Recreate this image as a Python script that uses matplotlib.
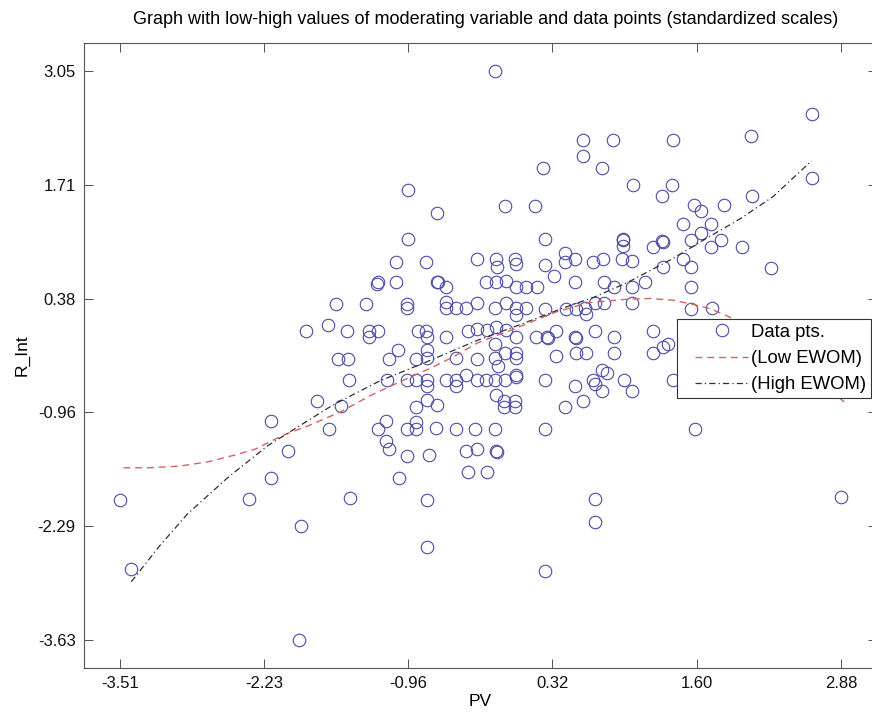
import matplotlib
matplotlib.use("Agg")
import matplotlib.pyplot as plt
from matplotlib.lines import Line2D
from matplotlib.legend_handler import HandlerLine2D

plt.rcParams['font.family'] = ['Liberation Sans', 'DejaVu Sans']

# ---- data (standardized scales) ----
pv = [-3.51, -3.41, -2.37, -2.17, -2.17, -2.02, -1.91, -1.92, -1.47, -0.79,
      -0.79, -1.04, -0.43, -0.97, -0.77, -0.44, -0.35, -1.15, -1.13, -1.66,
      -1.22, -1.15, -0.97, -0.89, -0.89, -0.71, -0.53, -0.36, -1.76, -1.55,
      -0.89, -0.79, -0.70, -1.48, -1.14, -0.97, -0.89, -0.79, -0.79, -0.62,
      -0.53, -0.53, -0.44, -0.35, -1.58, -1.49, -1.13, -0.89, -0.79, -0.53,
      -0.35, -1.05, -0.79,
      -0.96, -0.70, -0.96, -1.06, -0.80, -0.35, -1.23, -1.22, -1.06, -0.70,
      -0.69, -0.62, -1.60, -1.33, -0.97, -0.97, -0.62, -0.62, -0.53, -0.44,
      -0.35, -1.86, -1.67, -1.50, -1.30, -1.30, -1.22, -0.87, -0.80, -0.79,
      -0.62, -0.43, -0.35,
      -0.19, 0.59, 0.86, 0.59, 1.39, 0.24, 0.76, 1.04, 1.29, 1.38,
      -0.10, 0.17, 0.26, 0.95, 0.95, 0.95, 1.21, 1.29, 1.30, -0.18,
      -0.17, -0.01, 0.00, 0.26, 0.43, 0.43, 0.52, 0.68, 0.77, 0.94,
      1.03, 1.30, -0.27, -0.18, -0.09, 0.00, 0.09, 0.19, 0.34, 0.52,
      0.78, 0.87, 1.03, 1.14, -0.19, -0.09, 0.00, 0.00, 0.09, 0.26,
      0.44, 0.53, 0.61, 0.62, 0.70, 0.78, 1.03, -0.26, -0.18, -0.09,
      0.00, 0.18, 0.27, 0.28, 0.35, 0.52, 0.53, 0.70, 0.87, 1.21,
      1.30, 1.35, -0.19, -0.10, 0.00, 0.35, 0.53, 0.62, 0.87, 1.21,
      -0.19, -0.16, 0.00, -0.27, -0.19, -0.10, 0.00, 0.00, 0.26, 0.52,
      0.68, 0.70, 0.76, 0.81, 0.76, 0.96, 1.03, 1.39, -0.18, -0.11,
      -0.11, -0.01, -0.01, 0.43, 0.59, -0.19, 0.26, -0.18, -0.17, -0.26,
      0.70, 0.70, 0.26,
      2.62, 2.08, 2.62, 1.58, 1.64, 1.84, 2.09, 1.48, 1.64, 1.73,
      1.55, 1.73, 1.82, 2.00, 1.48, 1.55, 2.26, 1.55, 1.55, 1.74,
      1.59, 2.88]

r_int = [-1.99, -2.80, -1.98, -1.06, -1.73, -1.41, -2.29, -3.63, -1.96, -1.99,
         -2.54, -1.73, -1.66, -1.47, -1.46, -1.41, -1.39, -1.30, -1.39, -1.15,
         -1.15, -1.06, -1.15, -1.07, -1.16, -1.14, -1.15, -1.15, -0.82, -0.88,
         -0.89, -0.81, -0.87, -0.58, -0.58, -0.58, -0.58, -0.58, -0.65, -0.58,
         -0.58, -0.65, -0.52, -0.58, -0.33, -0.33, -0.33, -0.33, -0.32, -0.32,
         -0.33, -0.23, -0.22,
         1.65, 1.39, 1.08, 0.81, 0.81, 0.84, 0.55, 0.57, 0.57, 0.58,
         0.57, 0.52, 0.32, 0.32, 0.32, 0.27, 0.34, 0.27, 0.27, 0.27,
         0.33, 0.00, 0.07, 0.00, 0.00, -0.07, 0.00, 0.00, 0.00, -0.07,
         -0.07, 0.00, 0.02,
         3.05, 2.24, 2.24, 2.05, 2.24, 1.91, 1.91, 1.71, 1.59, 1.71,
         1.47, 1.47, 1.08, 1.08, 1.07, 1.00, 0.99, 1.06, 1.05, 0.85,
         0.75, 0.84, 0.78, 0.77, 0.92, 0.81, 0.84, 0.81, 0.84, 0.84,
         0.82, 0.75, 0.57, 0.58, 0.59, 0.51, 0.51, 0.52, 0.64, 0.58,
         0.58, 0.52, 0.51, 0.58, 0.27, 0.33, 0.27, 0.19, 0.27, 0.26,
         0.26, 0.26, 0.27, 0.20, 0.33, 0.33, 0.33, 0.01, 0.05, 0.01,
         -0.07, -0.07, -0.07, -0.08, 0.00, -0.07, -0.08, 0.00, -0.07, 0.00,
         -0.19, -0.15, -0.16, -0.26, -0.26, -0.29, -0.26, -0.26, -0.26, -0.26,
         -0.32, -0.41, -0.32, -0.58, -0.58, -0.58, -0.52, -0.54, -0.58, -0.65,
         -0.58, -0.63, -0.46, -0.49, -0.71, -0.58, -0.71, -0.58, -0.75, -0.83,
         -0.89, -0.83, -0.89, -0.89, -0.82, -1.15, -1.15, -1.41, -1.42, -1.66,
         -1.98, -2.25, -2.82,
         2.55, 2.29, 1.80, 1.48, 1.41, 1.48, 1.58, 1.26, 1.15, 1.26,
         1.07, 0.99, 1.07, 0.99, 0.84, 0.75, 0.74, 0.51, 0.26, 0.27,
         -1.15, -1.95]

low_x = [-3.48, -3.24, -2.98, -2.73, -2.49, -2.31, -2.07, -1.83, -1.55, -1.29,
         -1.03, -0.76, -0.56, -0.34, -0.04, 0.35, 0.64, 0.97, 1.19, 1.39,
         1.57, 1.72, 1.88, 2.16, 2.43, 2.65, 2.92]
low_y = [-1.61, -1.61, -1.59, -1.54, -1.46, -1.39, -1.23, -1.11, -0.95, -0.76,
         -0.60, -0.44, -0.31, -0.14, 0.01, 0.22, 0.33, 0.37, 0.38, 0.36,
         0.31, 0.26, 0.17, -0.02, -0.28, -0.54, -0.85]

high_x = [-3.41, -3.16, -2.91, -2.55, -2.20, -1.91, -1.62, -1.21, -0.82, -0.34,
          0.05, 0.40, 0.70, 0.99, 1.39, 1.69, 1.99, 2.28, 2.62]
high_y = [-2.95, -2.53, -2.15, -1.72, -1.35, -1.11, -0.87, -0.59, -0.38, -0.11,
          0.08, 0.26, 0.40, 0.57, 0.85, 1.09, 1.32, 1.58, 2.00]

xticks = [-3.51, -2.23, -0.96, 0.32, 1.60, 2.88]
yticks = [-3.63, -2.29, -0.96, 0.38, 1.71, 3.05]

title = "Graph with low-high values of moderating variable and data points (standardized scales)"

# ---- figure ----
W, H = 872, 716
fig = plt.figure(figsize=(W / 100, H / 100), dpi=100)
ax = fig.add_axes([84 / W, (H - 668) / H, 793 / W, 625 / H])

ax.plot(pv, r_int, 'o', ls='none', mfc='none', mec='#4b4ba6', mew=0.8, ms=9.0,
        label='Data pts.')
ax.plot(low_x, low_y, ls=(0, (5, 3.5)), color='#d46464', lw=1.0, label='(Low EWOM)')
ax.plot(high_x, high_y, ls=(0, (5, 2.5, 1, 2.5)), color='#303030', lw=0.9,
        label='(High EWOM)')

ax.set_xlim(-3.829, 3.199)
ax.set_ylim(-3.964, 3.384)
ax.set_xticks(xticks)
ax.set_xticklabels([f"{v:.2f}" for v in xticks])
ax.set_yticks(yticks)
ax.set_yticklabels([f"{v:.2f}" for v in yticks])
ax.tick_params(direction='in', length=6.5, width=0.7, color='#505050',
               top=True, right=True, labelsize=12, pad=6, labelcolor='#111111')
for s in ax.spines.values():
    s.set_color('#555555')
    s.set_linewidth(0.8)

ax.set_xlabel('PV', fontsize=12.5, labelpad=2)
ax.set_ylabel('R_Int', fontsize=12.5, labelpad=6)
fig.text(0.5 * (133 + 838) / W, 1 - 20 / H, title, ha='center', va='center', fontsize=13)

leg = ax.legend(loc='upper left', bbox_to_anchor=(677 / W, 1 - 319 / H),
                bbox_transform=fig.transFigure, borderaxespad=0, fancybox=False,
                framealpha=1, edgecolor='#333333', fontsize=13.3, handlelength=3.62,
                handletextpad=0.16, labelspacing=0.51, borderpad=0.25,
                handler_map={Line2D: HandlerLine2D(xpad=0.70)})
leg.get_frame().set_linewidth(0.8)

fig.savefig('out.png', dpi=100)
